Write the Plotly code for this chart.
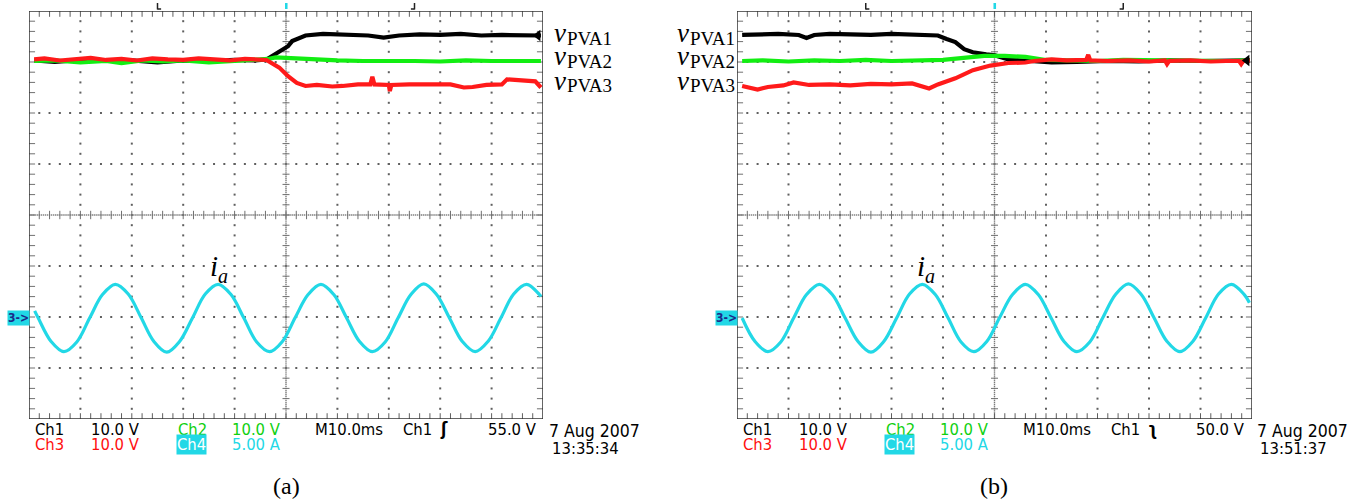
import plotly.graph_objects as go

W, H = 1368, 501

# ---------------- data (time in ms, voltages in screen divisions, current in A) -------------
# Panel (a)
a_black_t = [1.0, 5, 10, 15, 20, 25, 30, 35, 40, 44, 46.2, 48.7, 50.4, 51.2, 52.1, 53.8, 57.2, 62, 66, 69, 72, 76, 80, 84, 88, 92, 96, 99.6]
a_black_v = [7.03, 7.00, 7.04, 7.02, 7.03, 6.99, 7.03, 7.02, 7.04, 7.03, 7.05, 7.21, 7.31, 7.41, 7.45, 7.52, 7.55, 7.53, 7.52, 7.48, 7.52, 7.54, 7.53, 7.55, 7.52, 7.53, 7.52, 7.52]

a_green_t = [1.0, 5, 10, 15, 18, 22, 26, 30, 35, 40, 44, 46.5, 48, 50, 52, 55, 60, 65, 70, 75, 80, 85, 90, 95, 99.6]
a_green_v = [7.02, 7.03, 6.99, 7.02, 6.98, 7.03, 7.01, 7.03, 6.99, 7.02, 7.03, 7.06, 7.09, 7.08, 7.06, 7.04, 7.03, 7.02, 7.03, 7.02, 7.01, 7.03, 7.02, 7.02, 7.02]

a_red_t = [1.0, 3, 6, 9, 12, 15, 18, 21, 24, 27, 30, 33, 36, 39, 42, 45, 46.2, 48.7, 50.4, 52.1, 53.8, 56, 59, 61, 64, 66.4, 66.8, 67.2, 70, 70.2, 70.5, 74, 78, 82, 84.6, 86.3, 89, 92, 93, 96, 98.5, 99.6]
a_red_v = [7.05, 7.07, 7.03, 7.05, 7.08, 7.04, 7.06, 7.03, 7.07, 7.05, 7.04, 7.07, 7.05, 7.03, 7.06, 7.05, 7.04, 6.89, 6.72, 6.59, 6.53, 6.55, 6.52, 6.53, 6.56, 6.56, 6.71, 6.56, 6.55, 6.43, 6.55, 6.56, 6.55, 6.56, 6.50, 6.51, 6.55, 6.56, 6.66, 6.64, 6.62, 6.50]

a_cur_t = [1.1, 1.8, 4.3, 6.8, 9.3, 11.8, 14.3, 16.8, 19.3, 21.8, 24.3, 26.8, 29.3, 31.8, 34.3, 36.8, 39.3,
           41.8, 44.3, 46.8, 49.3, 51.8, 54.3, 56.8, 59.3, 61.8, 64.3, 66.8, 69.3, 71.8, 74.3, 76.8, 79.3,
           81.8, 84.3, 86.8, 89.3, 91.8, 94.3, 96.8, 99.3, 99.6]
a_cur_i = [0.7, 0.0, -2.3, -3.3, -2.35, 0.0, 2.3, 3.3, 2.35, 0.05, -2.3, -3.35, -2.3, 0.0, 2.35, 3.3, 2.3,
           0.0, -2.35, -3.3, -2.3, 0.05, 2.3, 3.3, 2.3, 0.0, -2.3, -3.3, -2.35, 0.0, 2.3, 3.35, 2.3,
           0.0, -2.3, -3.3, -2.3, 0.0, 2.35, 3.3, 2.3, 2.1]

# Panel (b)
b_black_t = [1.0, 4, 8, 12, 13.5, 15, 18, 22, 26, 30, 34, 37, 39.0, 40.7, 42.4, 44.1, 45.8, 48.4, 50.1, 52.7, 56.0, 61.1, 66, 72, 78, 84, 90, 95, 99.6]
b_black_v = [7.53, 7.54, 7.55, 7.53, 7.47, 7.53, 7.55, 7.54, 7.53, 7.55, 7.54, 7.53, 7.52, 7.45, 7.39, 7.25, 7.19, 7.15, 7.13, 7.05, 7.02, 6.99, 7.00, 7.02, 7.01, 7.03, 7.02, 7.03, 7.03]

b_green_t = [1.0, 5, 10, 15, 20, 25, 30, 35, 40, 44, 48, 52, 56, 60, 65, 70, 75, 80, 85, 90, 95, 99.6]
b_green_v = [7.02, 7.03, 7.01, 7.03, 7.02, 7.04, 7.02, 7.03, 7.04, 7.08, 7.12, 7.12, 7.10, 7.04, 7.03, 7.02, 7.04, 7.03, 7.02, 7.03, 7.02, 7.03]

b_red_t = [1.0, 2, 4, 6, 9, 11, 14, 18, 22, 26, 30, 34, 37.3, 39.0, 42.4, 45.8, 49.2, 52.7, 56.0, 57.7, 61.1, 64, 67.8, 68.2, 68.6, 72, 76, 80, 83.1, 83.5, 83.9, 88, 92, 95, 97.5, 97.9, 98.3, 99.6]
b_red_v = [6.53, 6.51, 6.46, 6.51, 6.54, 6.60, 6.55, 6.56, 6.54, 6.57, 6.56, 6.58, 6.48, 6.56, 6.68, 6.84, 6.93, 6.98, 6.99, 7.02, 7.05, 7.03, 7.04, 7.14, 7.03, 7.02, 7.03, 7.01, 7.03, 6.96, 7.02, 7.03, 7.01, 7.02, 7.02, 6.96, 7.02, 7.03]

b_cur_t = [1.0, 3.5, 6.0, 8.5, 11.0, 13.5, 16.0, 18.5, 21.0, 23.5, 26.0, 28.5, 31.0, 33.5, 36.0, 38.5,
           41.0, 43.5, 46.0, 48.5, 51.0, 53.5, 56.0, 58.5, 61.0, 63.5, 66.0, 68.5, 71.0, 73.5, 76.0, 78.5,
           81.0, 83.5, 86.0, 88.5, 91.0, 93.5, 96.0, 98.5, 99.5]
b_cur_i = [0.0, -2.3, -3.3, -2.35, 0.0, 2.3, 3.3, 2.3, 0.0, -2.3, -3.35, -2.3, 0.0, 2.35, 3.3, 2.3,
           0.0, -2.35, -3.3, -2.3, 0.05, 2.3, 3.3, 2.3, 0.0, -2.3, -3.3, -2.35, 0.0, 2.3, 3.35, 2.3,
           0.0, -2.3, -3.3, -2.3, 0.0, 2.35, 3.3, 2.3, 1.5]

CUR_OFFSET_DIV = 1.98   # ch4 ground marker position (divisions from bottom)
CUR_A_PER_DIV = 5.0
CURSOR_T = [25, 50, 75]

# ---------------- styling ----------------
BLACK, GREEN, RED, CYAN = "#000000", "#12ee12", "#ff1a1a", "#22d8e6"
GRIDC = "#5f5f5f"

fig = go.Figure()

def px(x):
    return x / W

def py(y):
    return 1 - y / H

PANEL_PX = [(29, 543), (737, 1252)]
TOP_PX, BOT_PX = 11, 419
axes = [("x", "y"), ("x2", "y2")]

def add_grid(xa, ya):
    xs, ys = [], []
    for i in range(1, 10):
        if i == 5:
            continue
        for k in range(1, 40):
            xs.append(i * 10); ys.append(k * 0.2)
    for j in range(1, 8):
        if j == 4:
            continue
        for k in range(1, 50):
            xs.append(k * 2); ys.append(j)
    fig.add_trace(go.Scatter(x=xs, y=ys, mode="markers", xaxis=xa, yaxis=ya,
                             marker=dict(symbol="square", size=2, color=GRIDC, line=dict(width=0)),
                             hoverinfo="skip", showlegend=False))
    cx, cy = [], []
    for k in range(1, 250):
        cx.append(k * 0.4); cy.append(4)
    for k in range(1, 200):
        cx.append(50); cy.append(k * 0.04)
    fig.add_trace(go.Scatter(x=cx, y=cy, mode="markers", xaxis=xa, yaxis=ya,
                             marker=dict(symbol="square", size=1.4, color="#7a7a7a", line=dict(width=0)),
                             hoverinfo="skip", showlegend=False))
    tx_ns, ty_ns, tx_ns_b, ty_ns_b = [], [], [], []
    for k in range(1, 50):
        tx_ns.append(k * 2); ty_ns.append(4)
        tx_ns_b.append(k * 2); ty_ns_b.append(7.955)
        tx_ns_b.append(k * 2); ty_ns_b.append(0.045)
    fig.add_trace(go.Scatter(x=tx_ns, y=ty_ns, mode="markers", xaxis=xa, yaxis=ya,
                             marker=dict(symbol="line-ns", size=6, line=dict(width=1, color="#707070")),
                             hoverinfo="skip", showlegend=False))
    fig.add_trace(go.Scatter(x=tx_ns_b, y=ty_ns_b, mode="markers", xaxis=xa, yaxis=ya,
                             marker=dict(symbol="line-ns", size=5, line=dict(width=1, color="#606060")),
                             hoverinfo="skip", showlegend=False))
    tx_ew, ty_ew = [], []
    for k in range(1, 40):
        tx_ew.append(50); ty_ew.append(k * 0.2)
        tx_ew.append(0.5); ty_ew.append(k * 0.2)
        tx_ew.append(99.5); ty_ew.append(k * 0.2)
    fig.add_trace(go.Scatter(x=tx_ew, y=ty_ew, mode="markers", xaxis=xa, yaxis=ya,
                             marker=dict(symbol="line-ew", size=5, line=dict(width=1, color="#707070")),
                             hoverinfo="skip", showlegend=False))

def add_line(xa, ya, t, v, color, width=4.2, shape="linear"):
    fig.add_trace(go.Scatter(x=t, y=v, mode="lines", xaxis=xa, yaxis=ya,
                             line=dict(color=color, width=width, shape=shape),
                             hoverinfo="skip", showlegend=False))

def cur_div(vals):
    return [CUR_OFFSET_DIV + i / CUR_A_PER_DIV for i in vals]

panel_data = [
    (a_black_t, a_black_v, a_green_t, a_green_v, a_red_t, a_red_v, a_cur_t, a_cur_i, a_black_v[-1]),
    (b_black_t, b_black_v, b_green_t, b_green_v, b_red_t, b_red_v, b_cur_t, b_cur_i, b_black_v[-1]),
]

for (xa, ya), d in zip(axes, panel_data):
    add_grid(xa, ya)
    bt, bv, gt, gv, rt, rv, ct, ci, trig = d
    add_line(xa, ya, ct, cur_div(ci), CYAN, width=3.2, shape="spline")
    add_line(xa, ya, bt, bv, BLACK)
    add_line(xa, ya, gt, gv, GREEN)
    add_line(xa, ya, rt, rv, RED)
    fig.add_trace(go.Scatter(x=[99.0], y=[trig], mode="markers", xaxis=xa, yaxis=ya,
                             marker=dict(symbol="triangle-left", size=10, color=BLACK),
                             hoverinfo="skip", showlegend=False, cliponaxis=False))

layout = dict(width=W, height=H, margin=dict(l=0, r=0, t=0, b=0), autosize=False,
              paper_bgcolor="white", plot_bgcolor="white", showlegend=False)
for n, ((x0, x1), (xa, ya)) in enumerate(zip(PANEL_PX, axes)):
    suffix = "" if n == 0 else "2"
    layout["xaxis" + suffix] = dict(domain=[px(x0), px(x1)], range=[0, 100], visible=False,
                                    fixedrange=True, anchor=ya)
    layout["yaxis" + suffix] = dict(domain=[py(BOT_PX), py(TOP_PX)], range=[0, 8], visible=False,
                                    fixedrange=True, anchor=xa)
fig.update_layout(**layout)

shapes = []
for (xa, ya) in axes:
    shapes.append(dict(type="rect", xref=xa, yref=ya, x0=0, x1=100, y0=0, y1=8,
                       line=dict(color="#333", width=1.5)))
    for t in CURSOR_T:
        if t == 50:
            shapes.append(dict(type="rect", xref=xa, yref="paper", x0=t - 0.2, x1=t + 0.3,
                               y0=py(9), y1=py(3), fillcolor=CYAN, line=dict(width=0)))
        else:
            foot = 0.7 if t < 50 else -0.7
            shapes.append(dict(type="line", xref=xa, yref="paper", x0=t, x1=t, y0=py(9.5), y1=py(3),
                               line=dict(color="#222", width=1.5)))
            shapes.append(dict(type="line", xref=xa, yref="paper", x0=t, x1=t + foot, y0=py(9), y1=py(9),
                               line=dict(color="#222", width=1.5)))
fig.update_layout(shapes=shapes)

ann = []
SERIF = "Liberation Serif"
MONO = "DejaVu Sans Condensed, DejaVu Sans"

def txt(text, x, y, color="black", size=16.5, anchor="left", font=MONO, bg=None, italic=False):
    f = dict(family=font, size=size, color=color)
    if italic:
        f["style"] = "italic"
    d = dict(text=text, x=px(x), y=py(y), xref="paper", yref="paper", showarrow=False,
             xanchor=anchor, yanchor="middle", font=f, borderpad=0)
    if bg:
        d["bgcolor"] = bg
    ann.append(d)

# channel labels: italic v followed by a roman subscript, as two texts each
v_subs = ["PVA1", "PVA2", "PVA3"]
v_label_y = [33, 56, 81]
for sub, yy in zip(v_subs, v_label_y):
    txt("v", 553, yy, size=27, font=SERIF, italic=True)
    txt(sub, 566, yy + 5, size=19, font=SERIF)
    txt(sub, 736, yy + 5, size=19, font=SERIF, anchor="right")
    txt("v", 690, yy, size=27, font=SERIF, anchor="right", italic=True)

for x0 in (209, 916):
    txt("i", x0, 266, size=29, font=SERIF, italic=True)
    txt("a", x0 + 8, 276, size=20, font=SERIF, italic=True)

for off in (0, 708):
    txt("<b>3-></b>", 30 + off, 318, color="#1b2a8a", size=12, anchor="right", bg=CYAN)

bottom_rows = [
    ("Ch1", 34, 0, "black", None), ("10.0 V", 89.5, 0, "black", None),
    ("Ch2", 177, 0, "#10d010", None), ("10.0 V", 231, 0, "#10d010", None),
    ("M10.0ms", 313.5, 0, "black", None), ("Ch1", 402, 0, "black", None),
    ("Ch3", 34, 1, "#ff1010", None), ("10.0 V", 89.5, 1, "#ff1010", None),
    ("Ch4", 176, 1, "white", CYAN), ("5.00 A", 231, 1, CYAN, None),
]
row_y = [429, 444]
for off in (0, 708):
    for text, x, r, c, bg in bottom_rows:
        txt(text, x + off, row_y[r], color=c, bg=bg)

trig_sym = ["ʃ", "ʅ"]
trig_lvl = ["55.0 V", "50.0 V"]
times = ["13:35:34", "13:51:37"]
caps = ["(a)", "(b)"]
cap_x = [286, 994]
for n, off in enumerate((0, 708)):
    txt("<b>" + trig_sym[n] + "</b>", 439 + off, 429, size=17)
    txt(trig_lvl[n], 487 + off, 429)
    txt("7 Aug 2007", 548 + off, 431, size=17.5)
    txt(times[n], 551 + off, 448)
    txt(caps[n], cap_x[n], 486, size=24, font=SERIF, anchor="center")

fig.update_layout(annotations=ann)
fig.write_html("out.html")
